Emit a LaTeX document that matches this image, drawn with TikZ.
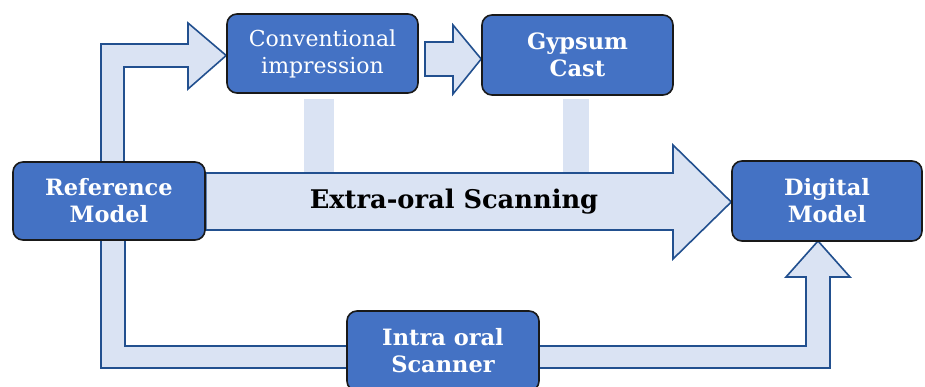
\documentclass[tikz,border=0pt]{standalone}
\usepackage{fontspec}
\setmainfont{DejaVu Serif}
\definecolor{boxblue}{HTML}{4472C4}
\definecolor{arrfill}{HTML}{DAE3F3}
\definecolor{arrline}{HTML}{22508F}
\pgfdeclarelayer{background}
\pgfsetlayers{background,main}
\begin{document}
\begin{tikzpicture}[x=1pt,y=-1pt,
  box/.style={draw=black!90, line width=1.6pt, fill=boxblue, rounded corners=10pt,
    text=white, align=center, inner sep=0pt, font=\fontsize{22.5}{27}\selectfont\bfseries},
  blockarrow/.style={fill=arrfill, draw=arrline, line width=1.6pt, line join=miter},
  bar/.style={fill=arrfill, draw=none}]
\clip (0,0) rectangle (925,387);
% boxes
\node[box, minimum width=192pt, minimum height=78pt] (ref) at (109,201) {Reference\\Model};
\node[box, minimum width=191pt, minimum height=79pt, font=\fontsize{22}{27}\selectfont] (conv) at (322.5,53.5) {Conventional\\impression};
\node[box, minimum width=191pt, minimum height=80pt] (gyp) at (577.5,55) {Gypsum\\Cast};
\node[box, minimum width=190pt, minimum height=80pt] (dig) at (827,201) {Digital\\Model};
\node[box, minimum width=192pt, minimum height=80pt] (intra) at (443,351) {Intra oral\\Scanner};
\begin{pgfonlayer}{background}
  \clip (0,0) rectangle (925,387);
  \fill[white] (0,0) rectangle (925,387);
  % light bars under the top boxes
  \fill[bar] (304,99) rectangle (334,172);
  \fill[bar] (563,99) rectangle (589,172);
  % big arrow: Extra-oral scanning (ref -> dig)
  \draw[blockarrow] (ref.east |- 0,173) -- (673,173) -- (673,145) -- (dig.west |- 0,202) -- (673,259)
     -- (673,230) -- (ref.east |- 0,230) -- cycle;
  % elbow arrow: reference model -> conventional impression
  \draw[blockarrow] (101,170) -- (101,44) -- (188,44) -- (188,23) -- (conv.west |- 0,55.5)
     -- (188,89) -- (188,67) -- (124,67) -- (124,170) -- cycle;
  % small arrow: conventional impression -> gypsum cast
  \draw[blockarrow] (425,42) -- (453,42) -- (453,25) -- (gyp.west |- 0,59) -- (453,94)
     -- (453,76) -- (425,76) -- cycle;
  % bottom path: reference model -> intra oral scanner -> digital model
  \draw[blockarrow] (101,230) -- (101,368) -- (830,368) -- (830,277) -- (850,277)
     -- (818,241) -- (786,277) -- (806,277) -- (806,346) -- (125,346)
     -- (125,230) -- cycle;
\end{pgfonlayer}
\node[font=\fontsize{25.7}{30}\selectfont\bfseries, text=black, anchor=base] (scan) at (454,208) {Extra-oral Scanning};
\end{tikzpicture}
\end{document}
